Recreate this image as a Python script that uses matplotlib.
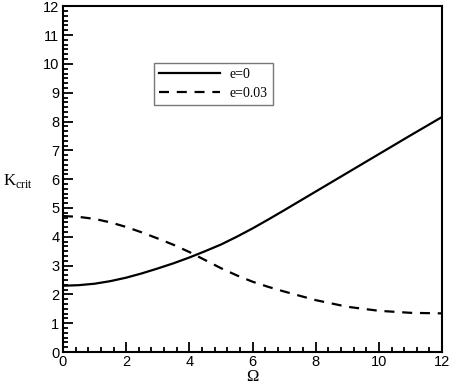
import matplotlib
matplotlib.use('Agg')
import matplotlib.pyplot as plt
from matplotlib.ticker import MultipleLocator

# values
omega = [0, 0.5, 1, 1.5, 2, 2.5, 3, 3.5, 4, 4.5, 5, 5.5, 6, 6.5, 7, 7.5, 8, 9, 10, 11, 12]
k_e0 = [2.30, 2.32, 2.37, 2.46, 2.58, 2.73, 2.90, 3.08, 3.28, 3.50, 3.73, 4.00, 4.29,
        4.60, 4.92, 5.245, 5.57, 6.22, 6.87, 7.52, 8.16]
k_e003 = [4.72, 4.69, 4.62, 4.50, 4.34, 4.15, 3.94, 3.72, 3.47, 3.19, 2.91, 2.66, 2.44,
          2.26, 2.10, 1.95, 1.80, 1.57, 1.43, 1.36, 1.34]

plt.rcParams['mathtext.fontset'] = 'custom'
plt.rcParams['mathtext.rm'] = 'Liberation Serif'

fig = plt.figure(figsize=(4.53, 3.85), dpi=100)
ax = fig.add_axes([0.139, 0.0857, 0.837, 0.898])

ax.plot(omega, k_e0, color='black', lw=1.6, label='e=0')
ax.plot(omega, k_e003, color='black', lw=1.6, dashes=(4.5, 3.5), label='e=0.03')

ax.set_xlim(0, 12)
ax.set_ylim(0, 12)
ax.xaxis.set_major_locator(MultipleLocator(2))
ax.xaxis.set_minor_locator(MultipleLocator(0.4))
ax.yaxis.set_major_locator(MultipleLocator(1))
ax.yaxis.set_minor_locator(MultipleLocator(1/6))
ax.tick_params(which='both', direction='in', top=False, right=False,
               width=1.3, labelsize=10.5, pad=2.5)
ax.tick_params(which='major', length=7)
ax.tick_params(which='minor', length=3.5)
for lab in ax.get_xticklabels() + ax.get_yticklabels():
    lab.set_family('Liberation Sans')
for s in ax.spines.values():
    s.set_linewidth(1.5)

ax.set_xlabel('Ω', family='Liberation Serif', fontsize=12, labelpad=0)
ax.set_ylabel(r'K$_{\rm crit}$', family='Liberation Serif', fontsize=12, rotation=0)
ax.yaxis.set_label_coords(-0.12, 0.47)

leg = ax.legend(loc='upper left', bbox_to_anchor=(0.24, 0.836), prop={'family': 'Liberation Serif', 'size': 10},
                frameon=True, fancybox=False, edgecolor='#555555', handlelength=4.4,
                handletextpad=0.7, borderpad=0.35, labelspacing=0.45, borderaxespad=0)
leg.get_frame().set_linewidth(1.0)

fig.savefig('out.png', dpi=100)
